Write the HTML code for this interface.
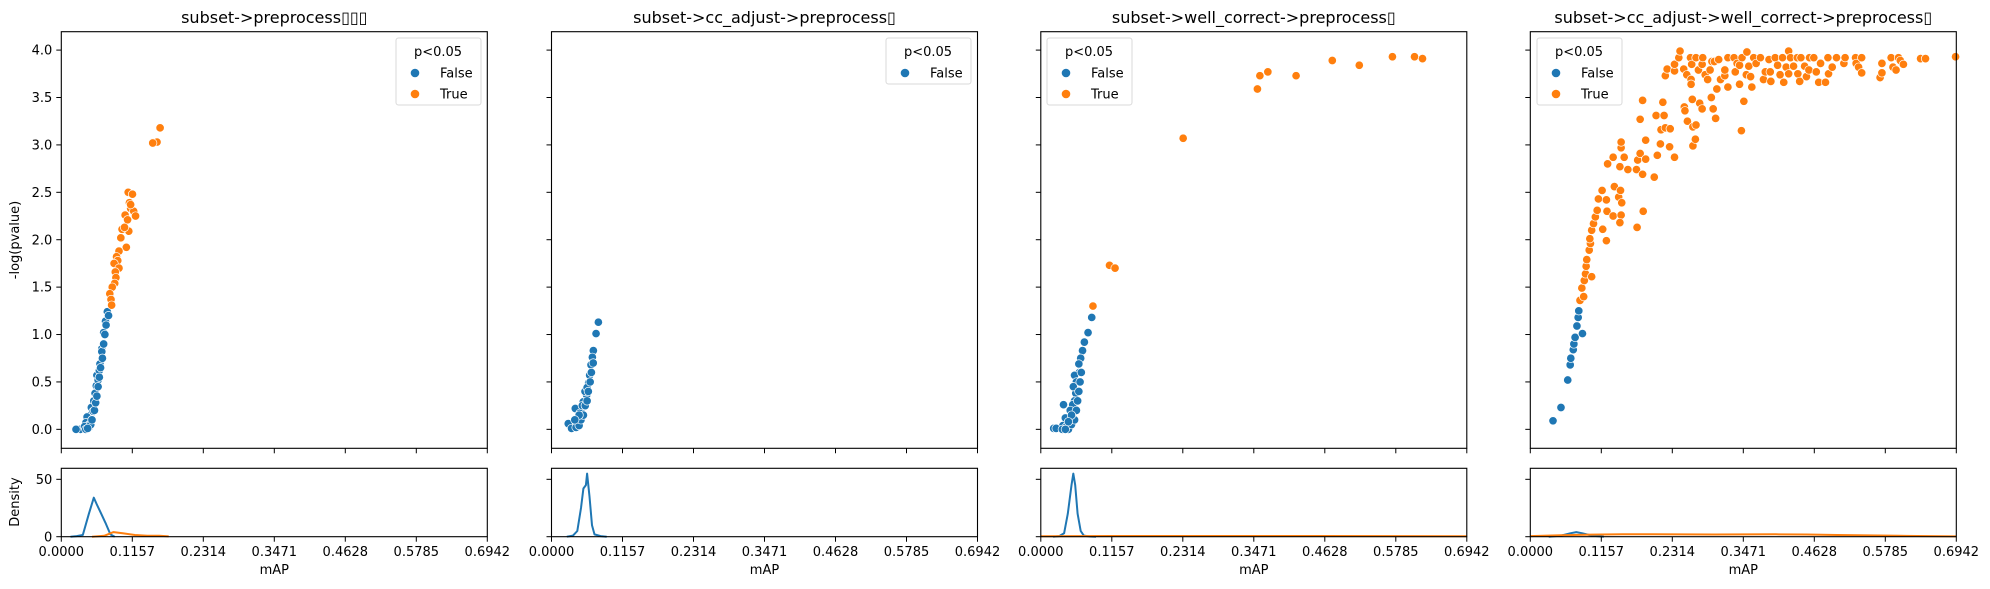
<!DOCTYPE html>
<html><head><meta charset="utf-8"><style>
html,body{margin:0;padding:0;background:#fff}
svg{display:block;font-family:"DejaVu Sans","Liberation Sans",sans-serif}
</style></head><body>
<svg id="chart" width="1990" height="589" viewBox="0 0 1990 589" xmlns="http://www.w3.org/2000/svg"></svg>
<script>
const titles = ["subset->preprocess▯▯▯","subset->cc_adjust->preprocess▯","subset->well_correct->preprocess▯","subset->cc_adjust->well_correct->preprocess▯"];
const xTickLabels = ["0.0000","0.1157","0.2314","0.3471","0.4628","0.5785","0.6942"];
const xTicks = [0,0.1157,0.2314,0.3471,0.4628,0.5785,0.6942];
const yTicks = [0,0.5,1,1.5,2,2.5,3,3.5,4];
const yTickLabels = ["0.0","0.5","1.0","1.5","2.0","2.5","3.0","3.5","4.0"];
const densTicks = [0,50];
const legendSets = [["False","True"],["False"],["False","True"],["False","True"]];

// panel 1
const p1BlueX=[0.075,0.072,0.069,0.066,0.066,0.063,0.058,0.057,0.055,0.053,0.049,0.048,0.042,0.040,0.036,0.031,0.024,0.044,0.052,0.060,0.062,0.050,0.046,0.038,0.045,0.048,0.050,0.054,0.056,0.058,0.060,0.062,0.064,0.067,0.069,0.071,0.073,0.077,0.040,0.043];
const p1BlueY=[1.24,1.14,1.02,0.85,0.82,0.69,0.57,0.46,0.38,0.30,0.23,0.15,0.13,0.07,0.02,0.0,0.0,0.04,0.19,0.52,0.62,0.10,0.05,0.03,0.02,0.05,0.10,0.20,0.28,0.35,0.45,0.55,0.65,0.75,0.90,1.00,1.10,1.20,0.0,0.01];
const p1OrX=[0.161,0.156,0.149,0.109,0.116,0.111,0.113,0.118,0.121,0.104,0.108,0.110,0.099,0.103,0.097,0.106,0.094,0.090,0.092,0.086,0.094,0.088,0.089,0.087,0.083,0.079,0.081,0.082,0.113];
const p1OrY=[3.18,3.03,3.02,2.50,2.48,2.39,2.33,2.30,2.25,2.26,2.21,2.09,2.11,2.13,2.02,1.92,1.88,1.82,1.78,1.75,1.70,1.66,1.60,1.54,1.50,1.43,1.37,1.31,2.37];
// panel 2
const p2BlueX=[0.0764,0.0726,0.0682,0.0666,0.0644,0.0622,0.0606,0.0573,0.0518,0.0475,0.0388,0.0437,0.0355,0.0273,0.0327,0.041,0.0464,0.0546,0.058,0.0502,0.040,0.045,0.048,0.052,0.055,0.058,0.060,0.063,0.065,0.068,0.045,0.038];
const p2BlueY=[1.13,1.01,0.83,0.76,0.68,0.57,0.49,0.36,0.29,0.21,0.22,0.13,0.05,0.06,0.01,0.07,0.17,0.40,0.44,0.25,0.02,0.04,0.10,0.15,0.25,0.30,0.40,0.50,0.60,0.70,0.15,0.10];
const p2OrX=[]; const p2OrY=[];
// panel 3
const p3BlueX=[0.083,0.077,0.071,0.068,0.065,0.062,0.063,0.055,0.058,0.057,0.055,0.037,0.052,0.050,0.047,0.036,0.021,0.025,0.045,0.042,0.040,0.048,0.053,0.045,0.050,0.055,0.058,0.060,0.062,0.064,0.066,0.050,0.045,0.035,0.040];
const p3BlueY=[1.18,1.02,0.92,0.83,0.75,0.69,0.60,0.57,0.50,0.38,0.30,0.26,0.26,0.18,0.09,0.04,0.01,0.01,0.05,0.03,0.12,0.20,0.45,0.0,0.05,0.10,0.20,0.30,0.40,0.50,0.60,0.15,0.08,0.0,0.0];
const p3OrX=[0.085,0.112,0.121,0.232,0.353,0.357,0.370,0.416,0.475,0.519,0.573,0.609,0.622];
const p3OrY=[1.30,1.73,1.70,3.07,3.59,3.73,3.77,3.73,3.89,3.84,3.93,3.93,3.91];
// panel 4
const p4BlueX=[0.037,0.050,0.061,0.065,0.066,0.070,0.071,0.073,0.076,0.078,0.079,0.085];
const p4BlueY=[0.09,0.23,0.52,0.68,0.75,0.84,0.90,0.97,1.09,1.18,1.25,1.01];
const p4OrX=[0.081,0.087,0.084,0.088,0.090,0.091,0.092,0.096,0.098,0.097,0.100,0.103,0.100,0.106,0.109,0.111,0.117,0.118,0.124,0.125,0.124,0.135,0.137,0.144,0.147,0.149,0.148,0.146,0.126,0.135,0.146,0.153,0.148,0.148,0.159,0.173,0.175,0.179,0.183,0.188,0.188,0.202,0.184,0.174,0.179,0.183,0.205,0.207,0.212,0.213,0.220,0.228,0.227,0.235,0.216,0.218,0.220,0.223,0.235,0.235,0.242,0.244,0.251,0.252,0.256,0.265,0.264,0.265,0.269,0.270,0.276,0.280,0.295,0.298,0.302,0.250,0.255,0.261,0.263,0.262,0.262,0.270,0.274,0.280,0.281,0.285,0.289,0.293,0.296,0.300,0.304,0.307,0.310,0.317,0.317,0.322,0.322,0.332,0.334,0.337,0.341,0.341,0.345,0.348,0.344,0.353,0.352,0.356,0.359,0.361,0.364,0.368,0.375,0.380,0.383,0.389,0.391,0.392,0.399,0.403,0.407,0.411,0.413,0.417,0.421,0.421,0.424,0.429,0.435,0.436,0.439,0.441,0.447,0.450,0.455,0.454,0.462,0.466,0.470,0.473,0.481,0.485,0.486,0.492,0.499,0.511,0.513,0.530,0.531,0.535,0.540,0.540,0.570,0.573,0.573,0.588,0.591,0.596,0.600,0.603,0.608,0.636,0.644,0.693];
const p4OrY=[1.36,1.40,1.49,1.57,1.64,1.72,1.79,1.89,1.96,2.01,2.10,2.17,1.61,2.24,2.31,2.43,2.52,2.11,1.99,2.30,2.42,2.25,2.56,2.45,2.52,2.39,2.26,2.18,2.80,2.87,2.77,2.87,2.97,3.03,2.74,2.74,2.84,2.91,2.69,2.85,3.05,2.66,2.30,2.13,3.27,3.47,3.31,2.89,3.01,3.16,3.18,3.17,2.98,2.87,3.45,3.31,3.73,3.80,3.78,3.85,3.92,3.99,3.40,3.36,3.25,3.19,3.48,2.99,3.06,3.21,3.44,3.38,3.50,3.38,3.28,3.80,3.74,3.92,3.85,3.69,3.64,3.92,3.79,3.85,3.92,3.74,3.69,3.79,3.88,3.88,3.59,3.90,3.69,3.73,3.79,3.61,3.92,3.92,3.77,3.86,3.64,3.84,3.92,3.46,3.15,3.98,3.74,3.83,3.72,3.61,3.92,3.86,3.92,3.69,3.77,3.90,3.77,3.67,3.92,3.84,3.74,3.92,3.66,3.82,3.99,3.75,3.92,3.83,3.92,3.75,3.67,3.92,3.83,3.72,3.92,3.79,3.92,3.77,3.66,3.86,3.66,3.92,3.75,3.82,3.92,3.86,3.92,3.92,3.86,3.82,3.76,3.92,3.71,3.76,3.86,3.92,3.82,3.79,3.92,3.89,3.85,3.91,3.91,3.93];

// densities
const d1BX=[0.015,0.025,0.035,0.045,0.053,0.058,0.065,0.072,0.08,0.087];
const d1BY=[0,0.5,1.5,20,34,28,20,12,2,0];
const d1OX=[0.05,0.07,0.085,0.1,0.12,0.14,0.16,0.175];
const d1OY=[0,0.8,4,3,1.5,0.8,0.8,0.3];
const d2BX=[0.025,0.035,0.042,0.048,0.052,0.056,0.058,0.062,0.066,0.07,0.08,0.09];
const d2BY=[0,1,5,25,42,45,55,35,10,2,0.5,0];
const d3BX=[0.02,0.03,0.038,0.044,0.05,0.053,0.056,0.06,0.065,0.07,0.08,0.09];
const d3BY=[0,0.5,3,20,45,55,45,20,5,1,0.2,0];
const d3OX=[0,0.1157,0.2314,0.3471,0.4628,0.5785,0.6942];
const d3OY=[0.4,0.6,0.6,0.6,0.6,0.5,0.4];
const d4BX=[0.03,0.05,0.065,0.075,0.085,0.1,0.12];
const d4BY=[0,1,3,4,3,1,0];
const d4OX=[0,0.05,0.1,0.15,0.2,0.25,0.3,0.35,0.4,0.45,0.5,0.55,0.6,0.65,0.6942];
const d4OY=[0.5,1.2,1.8,2.2,2.2,2,1.9,2,2.1,1.9,1.5,1.1,0.8,0.5,0.3];

const BLUE="#1f77b4", ORANGE="#ff7f0e";
const NS="http://www.w3.org/2000/svg";
const svg=document.getElementById("chart");
const lefts=[61.3,551.5,1040.8,1530.3];
const W=426, TOP=31.7, BOT=448.3, DTOP=468.3, DBOT=536.7;
const XMAX=0.6942, YMIN=-0.2, YMAX=4.194, DMAX=59.6;
function xs(p,v){return lefts[p]+v/XMAX*W;}
function ys(v){return BOT-(v-YMIN)/(YMAX-YMIN)*(BOT-TOP);}
function ds(v){return DBOT-v/DMAX*(DBOT-DTOP);}
function mk(tag,attrs,parent){const e=document.createElementNS(NS,tag);for(const k in attrs)e.setAttribute(k,attrs[k]);(parent||svg).appendChild(e);return e;}

const scatter=[[p1BlueX,p1BlueY,p1OrX,p1OrY],[p2BlueX,p2BlueY,p2OrX,p2OrY],[p3BlueX,p3BlueY,p3OrX,p3OrY],[p4BlueX,p4BlueY,p4OrX,p4OrY]];
const dens=[[d1BX,d1BY,d1OX,d1OY],[d2BX,d2BY,[],[]],[d3BX,d3BY,d3OX,d3OY],[d4BX,d4BY,d4OX,d4OY]];
const legendPos=[[396,38],[886,38],[1047,38],[1537,38]];

for(let p=0;p<4;p++){
  const L=lefts[p];
  const g=mk("g",{});
  
  
  const t=mk("text",{x:L+W/2,y:23,"text-anchor":"middle","font-size":"16px",fill:"#000"},g);
  t.textContent=titles[p];
  
  
  const s=scatter[p];
  for(let i=0;i<s[0].length;i++){
    const c=mk("circle",{cx:xs(p,s[0][i]),cy:ys(s[1][i]),r:4.2,fill:BLUE,stroke:"#fff","stroke-width":0.7},g);
    
    
  }
  for(let i=0;i<s[2].length;i++){
    const c=mk("circle",{cx:xs(p,s[2][i]),cy:ys(s[3][i]),r:4.2,fill:ORANGE,stroke:"#fff","stroke-width":0.7},g);
    
    
  }
  const d=dens[p];
  [[d[0],d[1],BLUE],[d[2],d[3],ORANGE]].forEach(([X,Y,col])=>{
    if(!X.length)return;
    const pts=X.map((v,i)=>xs(p,v).toFixed(1)+","+ds(Y[i]).toFixed(1)).join(" ");
    const pl=mk("polyline",{points:pts,fill:"none",stroke:col,"stroke-width":2,"stroke-linejoin":"round"},g);
    
    
  });
  const f1=mk("rect",{x:L,y:TOP,width:W,height:BOT-TOP,fill:"none",stroke:"#000","stroke-width":1.1},g);
  
  
  const f2=mk("rect",{x:L,y:DTOP,width:W,height:DBOT-DTOP,fill:"none",stroke:"#000","stroke-width":1.1},g);
  
  
  xTicks.forEach((v,i)=>{
    const x=xs(p,v);
    mk("line",{x1:x,x2:x,y1:BOT,y2:BOT+5,stroke:"#000","stroke-width":1},g);
    mk("line",{x1:x,x2:x,y1:DBOT,y2:DBOT+5,stroke:"#000","stroke-width":1},g);
    const tl=mk("text",{x:x,y:556,"text-anchor":"middle","font-size":"13px",fill:"#000"},g);
    tl.textContent=xTickLabels[i];
    
    
  });
  const xl=mk("text",{x:L+W/2,y:574,"text-anchor":"middle","font-size":"13px",fill:"#000"},g);
  xl.textContent="mAP";
  
  
  yTicks.forEach((v,i)=>{
    const y=ys(v);
    mk("line",{x1:L-5,x2:L,y1:y,y2:y,stroke:"#000","stroke-width":1},g);
    if(p===0){
      const tl=mk("text",{x:L-9,y:y+4.6,"text-anchor":"end","font-size":"13px",fill:"#000"},g);
      tl.textContent=yTickLabels[i];
      
      
    }
  });
  densTicks.forEach(v=>{
    const y=ds(v);
    mk("line",{x1:L-5,x2:L,y1:y,y2:y,stroke:"#000","stroke-width":1},g);
    if(p===0){
      const tl=mk("text",{x:L-9,y:y+4.6,"text-anchor":"end","font-size":"13px",fill:"#000"},g);
      tl.textContent=String(v);
      
      
    }
  });
  const [lx,ly]=legendPos[p];
  const items=legendSets[p];
  const lg=mk("g",{},g);
  
  
  mk("rect",{x:lx,y:ly,width:85,height:items.length===2?67:46,rx:2.5,fill:"#fff","fill-opacity":0.8,stroke:"#d9d9d9","stroke-width":1},lg);
  const lt=mk("text",{x:lx+42,y:ly+18,"text-anchor":"middle","font-size":"13px",fill:"#000"},lg);
  lt.textContent="p<0.05";
  
  
  items.forEach((name,i)=>{
    const yy=ly+35+i*21;
    const c=mk("circle",{cx:lx+19,cy:yy,r:4.3,fill:name==="False"?BLUE:ORANGE},lg);
    
    
    const tx=mk("text",{x:lx+44,y:yy+4.6,"font-size":"13px",fill:"#000"},lg);
    tx.textContent=name;
    
    
  });
}
const yl=mk("text",{x:0,y:0,"text-anchor":"middle","font-size":"13px",fill:"#000",transform:"translate(19,240) rotate(-90)"});
yl.textContent="-log(pvalue)";


const dl=mk("text",{x:0,y:0,"text-anchor":"middle","font-size":"13px",fill:"#000",transform:"translate(19,502) rotate(-90)"});
dl.textContent="Density";


</script>
</body></html>
